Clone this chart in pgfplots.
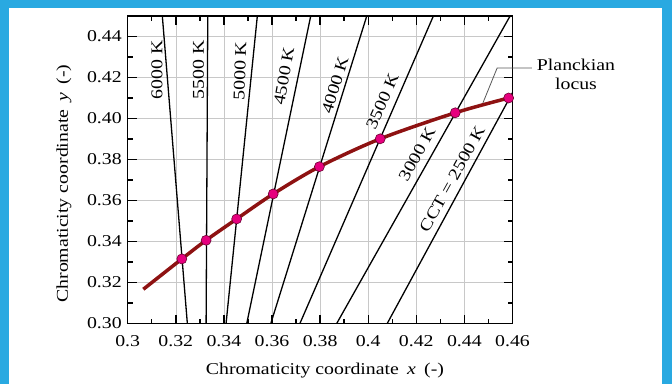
\documentclass[border=0pt]{standalone}
\usepackage{fontspec}
\setmainfont{Liberation Serif}[FakeStretch=1.2]
\usepackage{pgfplots}
\pgfplotsset{compat=1.18}
\definecolor{bgblue}{HTML}{29A9E1}
\definecolor{locus}{HTML}{8E1212}
\definecolor{mk}{HTML}{E6007E}
\definecolor{mkd}{HTML}{6A0030}
\definecolor{gridgray}{HTML}{C8C8C8}
\newcommand{\lf}{\fontsize{16.5}{19}\selectfont}
\begin{document}
\begin{tikzpicture}[x=1pt,y=1pt]
\fill[bgblue] (0,0) rectangle (672,384);
\fill[white] (9,0) rectangle (662,376);
\begin{axis}[
  at={(127.7pt,60.5pt)}, anchor=south west,
  scale only axis, width=384.8pt, height=307.5pt,
  xmin=0.3, xmax=0.46, ymin=0.30, ymax=0.45,
  xtick={0.30,0.32,0.34,0.36,0.38,0.40,0.42,0.44,0.46},
  xticklabels={0.3,0.32,0.34,0.36,0.38,0.4,0.42,0.44,0.46},
  ytick={0.30,0.32,0.34,0.36,0.38,0.40,0.42,0.44},
  yticklabels={0.30,0.32,0.34,0.36,0.38,0.40,0.42,0.44},
  minor x tick num=1, minor y tick num=1,
  tick align=inside, major tick length=9pt, minor tick length=5pt,
  xmajorgrids, ymajorgrids,
  major grid style={gridgray, line width=0.6pt},
  axis line style={line width=1.6pt},
  every tick/.style={black, line width=1.4pt},
  tick label style={font=\lf},
  xticklabel style={yshift=-8pt},
  yticklabel style={xshift=-2.5pt},
  label style={font=\lf},
  xlabel={Chromaticity coordinate\enspace\textit{x}\enspace(-)},
  ylabel={Chromaticity coordinate\enspace\textit{y}\enspace(-)},
  xlabel style={at={(axis description cs:0.5127,-0.1545)}, anchor=center},
  ylabel style={at={(axis description cs:-0.1655,0.455)}, anchor=center},
  clip=false,
]
% isotherm lines
\addplot[black, line width=1.3pt] coordinates {(0.3248,0.30) (0.3144,0.45)};
\addplot[black, line width=1.3pt] coordinates {(0.3326,0.30) (0.3333,0.45)};
\addplot[black, line width=1.3pt] coordinates {(0.3409,0.30) (0.3539,0.45)};
\addplot[black, line width=1.3pt] coordinates {(0.3495,0.30) (0.3761,0.45)};
\addplot[black, line width=1.3pt] coordinates {(0.3595,0.30) (0.3994,0.45)};
\addplot[black, line width=1.3pt] coordinates {(0.3716,0.30) (0.4271,0.45)};
\addplot[black, line width=1.3pt] coordinates {(0.3869,0.30) (0.4590,0.45)};
\addplot[black, line width=1.3pt] coordinates {(0.4079,0.30) (0.4600,0.4126)};
% Planckian locus
\addplot[locus, line width=3.5pt, smooth] coordinates {
(0.3065,0.3167) (0.3225,0.3315) (0.3326,0.3406) (0.3453,0.3510)
(0.3605,0.3632) (0.3797,0.3765) (0.4050,0.3901) (0.4362,0.4028) (0.4584,0.4100)};
\addplot[only marks, mark=*, mark size=5pt, mark options={fill=mk, draw=mkd, line width=0.6pt}] coordinates {
(0.3225,0.3315) (0.3326,0.3406) (0.3453,0.3510)
(0.3605,0.3632) (0.3797,0.3765) (0.4050,0.3901) (0.4362,0.4028) (0.4584,0.4100)};
% labels
\node[rotate=90, font=\lf] at (axis cs:0.3122,0.4237) {6000 K};
\node[rotate=90, font=\lf] at (axis cs:0.3294,0.4237) {5500 K};
\node[rotate=88, font=\lf] at (axis cs:0.3467,0.4232) {5000 K};
\node[rotate=80, font=\lf] at (axis cs:0.3650,0.4207) {4500 K};
\node[rotate=73, font=\lf] at (axis cs:0.3862,0.4163) {4000 K};
\node[rotate=66, font=\lf] at (axis cs:0.4059,0.4083) {3500 K};
\node[rotate=61, font=\lf] at (axis cs:0.4203,0.3827) {3000 K};
\node[rotate=61, font=\lf] at (axis cs:0.4349,0.3705) {CCT = 2500 K};
\draw[black!65, line width=0.8pt] (axis cs:0.4681,0.4246) -- (axis cs:0.4536,0.4246) -- (axis cs:0.4477,0.4076);
\node[align=center, font=\lf] at (axis cs:0.4864,0.4217) {Planckian\\locus};
\end{axis}
\end{tikzpicture}
\end{document}
